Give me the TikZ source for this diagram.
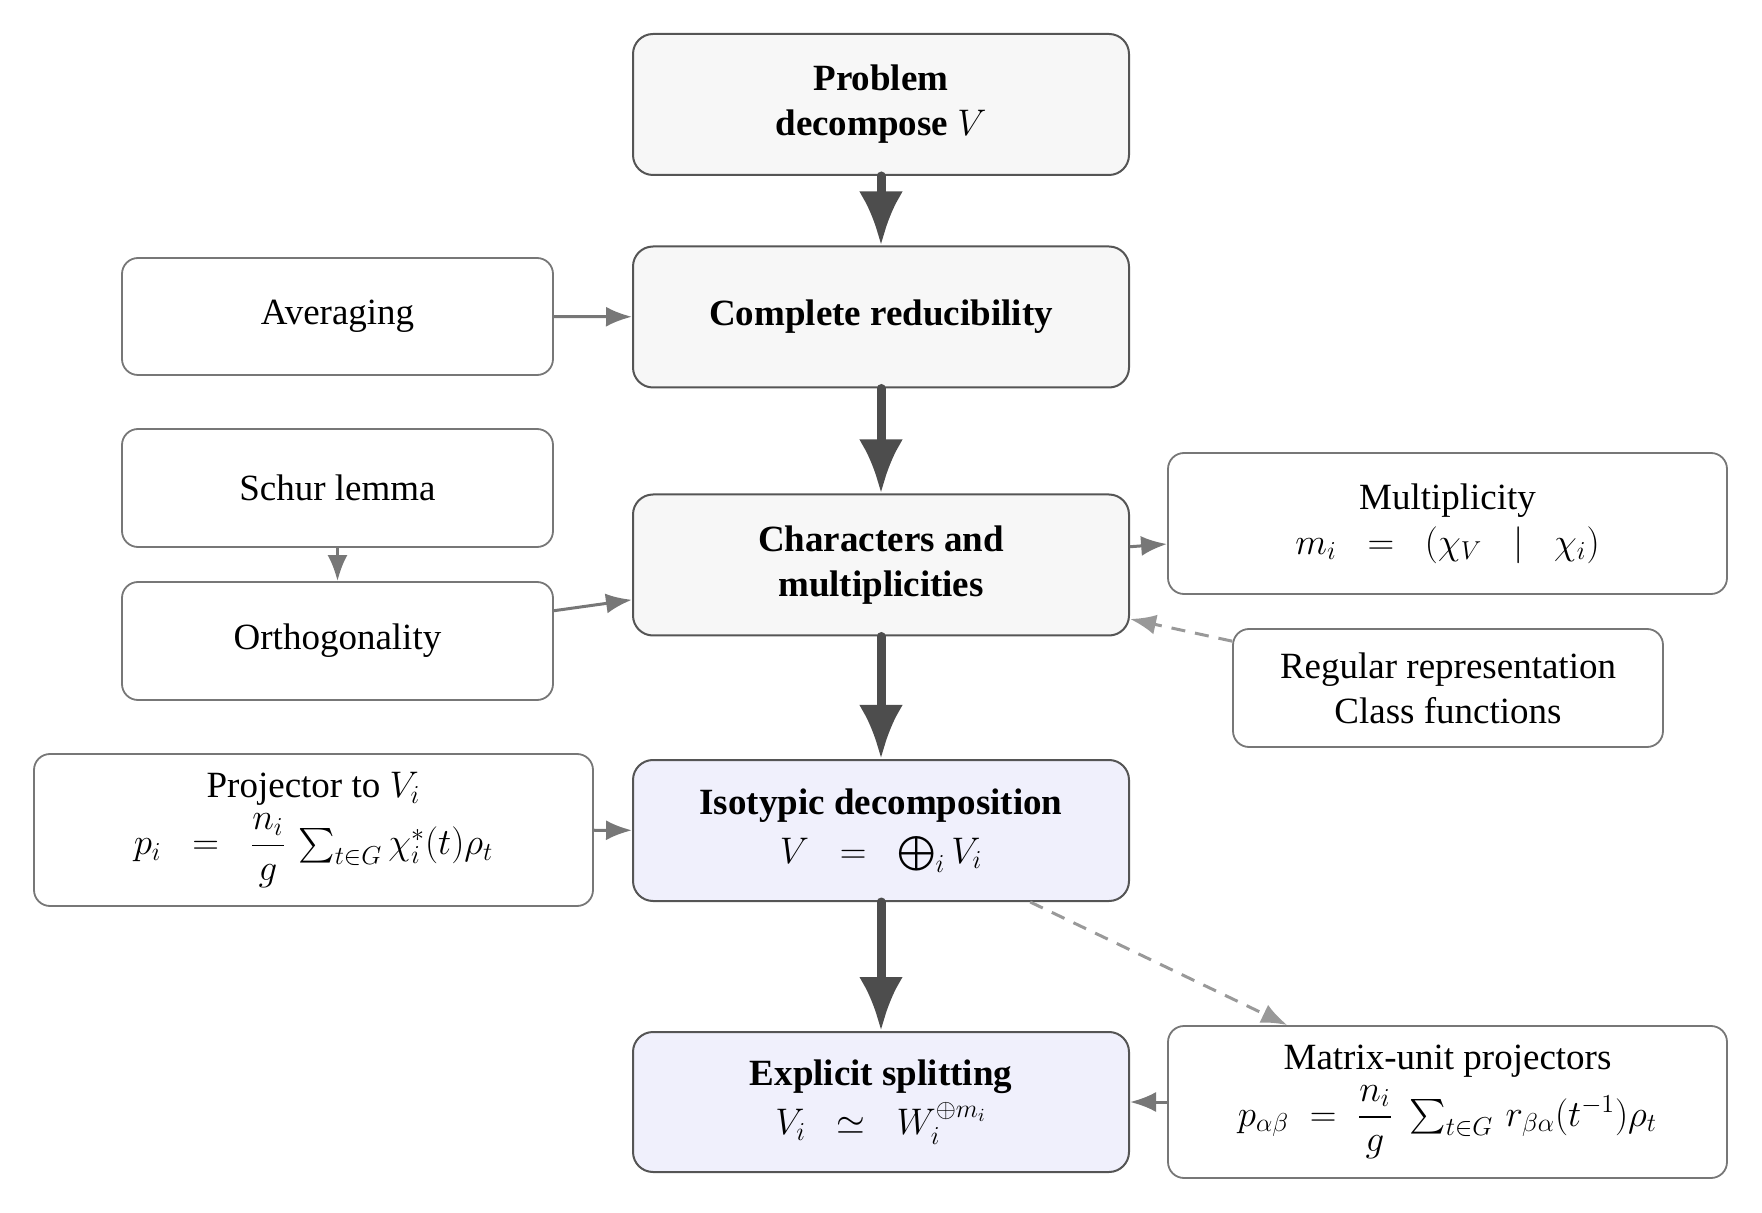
\documentclass[tikz,border=0pt]{standalone}
\usepackage{fix-cm}
\usepackage{amsmath}
\usepackage[no-math]{fontspec}
\setmainfont{Liberation Serif}
\usetikzlibrary{arrows.meta}
\definecolor{mainborder}{HTML}{555555}
\definecolor{mainfill}{HTML}{F7F7F7}
\definecolor{isofill}{HTML}{F0F0FC}
\definecolor{sideborder}{HTML}{777777}
\definecolor{mainarrow}{HTML}{4D4D4D}
\definecolor{sidearrow}{HTML}{777777}
\definecolor{dasharrow}{HTML}{999999}
\begin{document}
\begin{tikzpicture}[x=0.5pt,y=-0.5pt,
  every node/.style={font=\fontsize{18.5}{22.5}\selectfont},
  mainbox/.style={draw=mainborder, fill=mainfill, rounded corners=10pt, line width=1pt,
    minimum width=248pt, minimum height=70.5pt, align=center, inner sep=2pt,
    font=\fontsize{18.5}{22.5}\selectfont\bfseries},
  isobox/.style={mainbox, fill=isofill},
  sidebox/.style={draw=sideborder, fill=white, rounded corners=8pt, line width=0.9pt,
    align=center, inner sep=2pt},
  mainarr/.style={draw=mainarrow, line width=4.5pt, line cap=round,
    -{Latex[length=27pt,width=22pt]}},
  sidearr/.style={draw=sidearrow, line width=1.5pt,
    -{Latex[length=13pt,width=10pt]}},
  dasharr/.style={draw=dasharrow, line width=1.5pt, dash pattern=on 7pt off 5pt,
    -{Latex[length=13pt,width=10pt]}}
]
\useasboundingbox (0,0) rectangle (1762,1213);

\node[mainbox] (prob) at (881,104.5) {Problem\\decompose $V$};
\node[mainbox] (comp) at (881,317) {Complete reducibility};
\node[mainbox] (char) at (881,565) {Characters and\\multiplicities};
\node[isobox] (iso) at (881,830.5) {Isotypic decomposition\\[2pt]\mdseries $V \;\;=\;\; \textstyle\bigoplus_i V_i$};
\node[isobox, minimum height=70pt] (expl) at (881,1102) {Explicit splitting\\[2pt]\mdseries $V_i \;\;\simeq\;\; W_i^{\oplus m_i}$};

\node[sidebox, minimum width=215.5pt, minimum height=58.5pt] (avg) at (337.5,316.5) {Averaging};
\node[sidebox, minimum width=215.5pt, minimum height=59pt] (schur) at (337.5,488) {Schur lemma};
\node[sidebox, minimum width=215.5pt, minimum height=59pt] (orth) at (337.5,641) {Orthogonality};
\node[sidebox, minimum width=279.5pt, minimum height=70.5pt] (mult) at (1447.5,523.5) {Multiplicity\\$m_i \;\;=\;\; (\chi_V \;\;\mid\;\; \chi_i)$};
\node[sidebox, minimum width=215pt, minimum height=59pt] (reg) at (1448,688) {Regular representation\\Class functions};
\node[sidebox, minimum width=279.5pt, minimum height=76pt] (proj) at (313.5,830) {Projector to $V_i$\\[3pt]$p_i \;\;=\;\; \dfrac{n_i}{g}\, \textstyle\sum_{t\in G} \chi_i^*(t)\rho_t$};
\node[sidebox, minimum width=279.5pt, minimum height=76pt] (mat) at (1447.5,1102) {Matrix-unit projectors\\[3pt]$p_{\alpha\beta} \;=\; \dfrac{n_i}{g}\;\textstyle\sum_{t\in G}\, r_{\beta\alpha}(t^{-1})\rho_t$};

\draw[mainarr] (prob) -- (comp);
\draw[mainarr] (comp) -- (char);
\draw[mainarr] (char) -- (iso);
\draw[mainarr] (iso) -- (expl);

\draw[sidearr] (avg) -- (comp);
\draw[sidearr] (schur) -- (orth);
\draw[sidearr] (orth) -- (char);
\draw[sidearr] (char) -- (mult);
\draw[sidearr] (proj) -- (iso);
\draw[sidearr] (mat) -- (expl);

\draw[dasharr] (reg) -- (char);
\draw[dasharr] (iso) -- (mat);
\end{tikzpicture}
\end{document}
